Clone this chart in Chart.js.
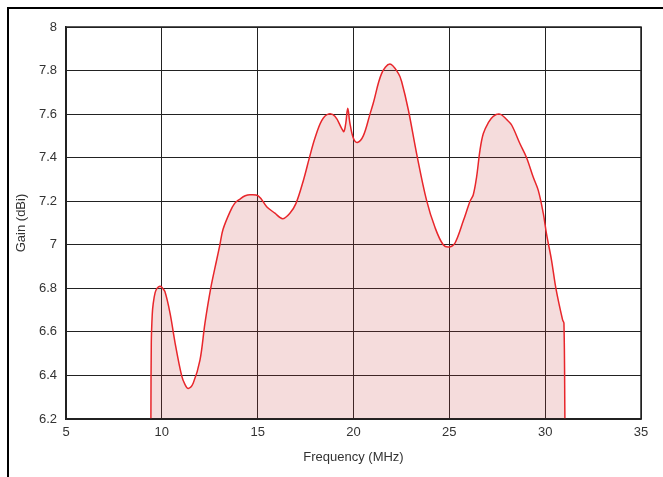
<!DOCTYPE html>
<html>
<head>
<meta charset="utf-8">
<script src="https://cdn.jsdelivr.net/npm/chart.js@4/dist/chart.umd.min.js"></script>
<style>
  html, body { margin: 0; padding: 0; background: #fff; overflow: hidden; }
  #wrap { position: relative; width: 663px; height: 477px; }
  #frame { position: absolute; left: 7px; top: 7px; width: 670px; height: 490px; border: 2px solid #000; box-sizing: border-box; pointer-events: none; }
  canvas { position: absolute; left: 0; top: 0; }
</style>
</head>
<body>
<div id="wrap">
  <canvas id="c" width="663" height="477"></canvas>
  <div id="frame"></div>
</div>
<script>
const freq = [9.43, 9.45, 9.5, 9.55, 9.65, 9.75, 9.9, 10.0, 10.16, 10.43, 10.69, 11.03, 11.2, 11.38, 11.64, 11.99, 12.25, 12.55, 12.86, 13.03, 13.19, 13.55, 13.8, 14.08, 14.35, 14.6, 15.03, 15.47, 15.9, 16.3, 16.68, 17.0, 17.4, 17.7, 17.99, 18.34, 18.68, 19.03, 19.38, 19.5, 19.6, 19.7, 19.81, 19.99, 20.2, 20.51, 20.86, 21.03, 21.47, 21.9, 22.34, 22.51, 22.86, 23.29, 23.81, 24.25, 24.68, 25.0, 25.29, 25.73, 26.08, 26.25, 26.42, 26.6, 26.77, 27.03, 27.29, 27.64, 27.99, 28.25, 28.68, 29.03, 29.38, 29.64, 29.9, 30.07, 30.33, 30.56, 30.91, 30.98, 31.03];
const gain = [6.2, 6.55, 6.68, 6.73, 6.78, 6.80, 6.81, 6.805, 6.785, 6.685, 6.55, 6.40, 6.36, 6.34, 6.365, 6.47, 6.64, 6.80, 6.93, 7.0, 7.07, 7.15, 7.19, 7.21, 7.225, 7.23, 7.225, 7.175, 7.145, 7.12, 7.145, 7.19, 7.30, 7.40, 7.49, 7.57, 7.60, 7.59, 7.535, 7.52, 7.56, 7.627, 7.56, 7.49, 7.47, 7.50, 7.60, 7.65, 7.787, 7.83, 7.787, 7.75, 7.62, 7.42, 7.205, 7.08, 7.0, 6.99, 7.007, 7.11, 7.2, 7.23, 7.31, 7.435, 7.51, 7.56, 7.59, 7.60, 7.575, 7.55, 7.465, 7.4, 7.31, 7.25, 7.145, 7.05, 6.93, 6.8, 6.655, 6.64, 6.2];
const xTicks = [5, 10, 15, 20, 25, 30, 35];
const yTicks = [6.2, 6.4, 6.6, 6.8, 7, 7.2, 7.4, 7.6, 7.8, 8];
const yTickLabels = ['6.2', '6.4', '6.6', '6.8', '7', '7.2', '7.4', '7.6', '7.8', '8'];
const xTitle = 'Frequency (MHz)';
const yTitle = 'Gain (dBi)';

const points = freq.map((f, i) => ({ x: f, y: gain[i] }));
const font = { family: '"Liberation Sans", Arial, sans-serif', size: 13 };

new Chart(document.getElementById('c'), {
  type: 'line',
  data: {
    datasets: [{
      data: points,
      borderColor: '#e8262b',
      borderWidth: 1.5,
      backgroundColor: 'rgba(200,60,60,0.18)',
      fill: 'start',
      pointRadius: 0,
      tension: 0.35
    }]
  },
  options: {
    responsive: false,
    animation: false,
    events: [],
    layout: { padding: { left: 0, right: 22, top: 27, bottom: 0 } },
    plugins: { legend: { display: false }, tooltip: { enabled: false } },
    scales: {
      x: {
        type: 'linear', min: 5, max: 35,
        afterBuildTicks: s => { s.ticks = xTicks.map(v => ({ value: v })); },
        afterFit: s => { s.height = 58; },
        grid: { color: '#222', lineWidth: 1, drawTicks: false },
        border: { color: '#222', width: 1.5 },
        ticks: { font, color: '#333', padding: 6 },
        title: { display: true, text: xTitle, font, color: '#333', padding: { top: 0, bottom: 12 } }
      },
      y: {
        type: 'linear', min: 6.2, max: 8,
        afterBuildTicks: s => { s.ticks = yTicks.map(v => ({ value: v })); },
        afterFit: s => { s.width = 66; },
        grid: { color: '#222', lineWidth: 1, drawTicks: false },
        border: { color: '#222', width: 1.5 },
        ticks: { font, color: '#333', padding: 9, callback: (v, i) => yTickLabels[i] },
        title: { display: true, text: yTitle, font, color: '#333', padding: { top: 14, bottom: 0 } }
      }
    }
  },
  plugins: [{
    id: 'frameBox',
    afterDraw(chart) {
      const { ctx, chartArea: a } = chart;
      ctx.save();
      ctx.strokeStyle = '#222';
      ctx.lineWidth = 1.5;
      ctx.strokeRect(a.left, a.top, a.right - a.left, a.bottom - a.top);
      ctx.restore();
    }
  }]
});
</script>
</body>
</html>
